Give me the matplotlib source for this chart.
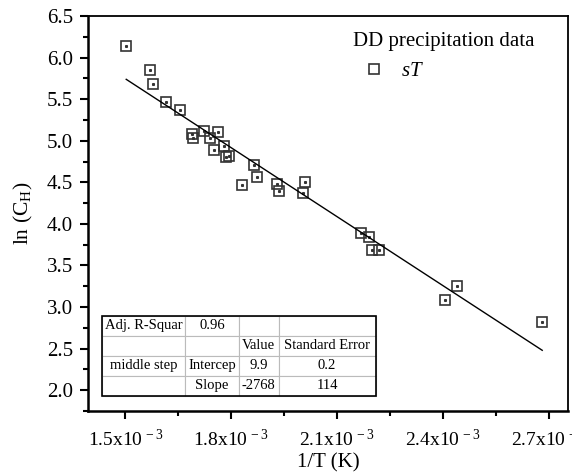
import numpy as np
import matplotlib
matplotlib.use("Agg")
import matplotlib.pyplot as plt
from matplotlib.patches import Rectangle
from matplotlib.ticker import MultipleLocator, FuncFormatter

plt.rcParams["font.family"] = ["Liberation Serif", "DejaVu Serif"]
plt.rcParams["mathtext.fontset"] = "custom"
plt.rcParams["mathtext.rm"] = "Liberation Serif"
plt.rcParams["mathtext.it"] = "Liberation Serif:italic"

# data (1/T in 1/K, ln(C_H))
inv_t = [1.503e-3, 1.570e-3, 1.579e-3, 1.616e-3, 1.654e-3, 1.690e-3, 1.692e-3,
         1.724e-3, 1.741e-3, 1.751e-3, 1.763e-3, 1.781e-3, 1.785e-3, 1.794e-3,
         1.831e-3, 1.866e-3, 1.872e-3, 1.929e-3, 1.935e-3, 2.008e-3, 2.004e-3,
         2.168e-3, 2.191e-3, 2.200e-3, 2.220e-3, 2.439e-3, 2.406e-3, 2.681e-3]
ln_ch = [6.14, 5.85, 5.68, 5.47, 5.37, 5.08, 5.03,
         5.12, 5.03, 4.89, 5.11, 4.94, 4.81, 4.82,
         4.47, 4.71, 4.57, 4.48, 4.39, 4.50, 4.37,
         3.89, 3.84, 3.68, 3.68, 3.25, 3.08, 2.82]

fit_intercept = 9.9
fit_slope = -2768

table_rows = [
    ["Adj. R-Squar", "0.96", "", ""],
    ["", "", "Value", "Standard Error"],
    ["middle step", "Intercep", "9.9", "0.2"],
    ["", "Slope", "-2768", "114"],
]

fig = plt.figure(figsize=(5.72, 4.75), dpi=100)
ax = fig.add_axes([0.154, 0.135, 0.839, 0.831])

mk = "#333333"
ax.plot(inv_t, ln_ch, ls="none", marker="s", ms=6.5, mfc="none", mec=mk,
        mew=1.2, label="$sT$")
ax.plot(inv_t, ln_ch, ls="none", marker="s", ms=1.2, mfc=mk, mec=mk)

xs = np.array([min(inv_t), max(inv_t)])
ax.plot(xs, fit_intercept + fit_slope * xs, color="black", lw=1.0)

ax.set_xlim(1.395e-3, 2.754e-3)
ax.set_ylim(1.75, 6.5)
ax.xaxis.set_major_locator(MultipleLocator(0.3e-3))
ax.xaxis.set_minor_locator(MultipleLocator(0.15e-3))
ax.yaxis.set_major_locator(MultipleLocator(0.5))
ax.yaxis.set_minor_locator(MultipleLocator(0.25))
ax.xaxis.set_major_formatter(FuncFormatter(lambda v, p: f"{v*1e3:.1f}x10$^{{\\,-3}}$"))
ax.yaxis.set_major_formatter(FuncFormatter(lambda v, p: f"{v:.1f}"))
ax.tick_params(which="major", direction="out", length=6, width=1.5)
ax.tick_params(which="minor", direction="out", length=3.5, width=1.5)
ax.tick_params(axis="x", which="major", labelsize=14, pad=7)
ax.tick_params(axis="y", which="major", labelsize=15, pad=5)
for s in ax.spines.values():
    s.set_linewidth(1.3)
ax.spines["left"].set_linewidth(1.8)
ax.spines["bottom"].set_linewidth(1.8)

ax.set_xlabel("1/T (K)", fontsize=15, labelpad=2)
ax.set_ylabel(r"ln (C$_\mathrm{H}$)", fontsize=15.5, labelpad=8)

leg = ax.legend(title="DD precipitation data", loc="upper right",
                bbox_to_anchor=(0.952, 0.985), frameon=False, fontsize=15,
                title_fontsize=15, handletextpad=0.3, borderpad=0,
                alignment="left")

# fit results table
tb = ax.table(cellText=table_rows, cellLoc="center",
              colWidths=[0.305, 0.196, 0.145, 0.354],
              bbox=[0.0285, 0.0387, 0.5705, 0.2018])
tb.auto_set_font_size(False)
tb.set_fontsize(10.5)
for cell in tb.get_celld().values():
    cell.set_edgecolor("#bbbbbb")
    cell.set_linewidth(0.8)
    cell.PAD = 0.02
ax.add_patch(Rectangle((0.0285, 0.0387), 0.5705, 0.2018, transform=ax.transAxes,
                       fill=False, ec="black", lw=1.2, zorder=5))

fig.savefig("out.png", dpi=100)
